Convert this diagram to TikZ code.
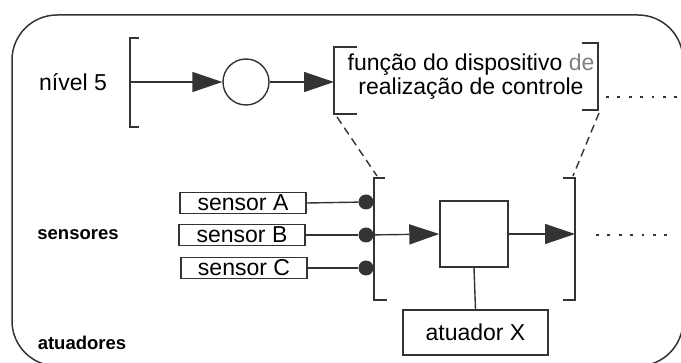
\documentclass[tikz,border=0pt]{standalone}
\usepackage{fontspec}
\setmainfont{Liberation Sans}
\usetikzlibrary{arrows.meta}
\definecolor{ln}{HTML}{333333}
\definecolor{txtgray}{HTML}{808080}
\begin{document}
\begin{tikzpicture}[x=1pt,y=-1pt,
  line/.style={draw=ln,line width=1.4pt},
  tri/.style={-{Triangle[length=30pt,width=20pt]}},
  box/.style={draw=ln,line width=1.4pt,inner sep=0pt},
  lbl/.style={font=\fontsize{23}{24}\selectfont,inner sep=0pt},
  side/.style={font=\fontsize{18.5}{20}\selectfont\bfseries,inner sep=0pt},
  blob/.style={circle,fill=ln,draw=none,minimum size=15pt,inner sep=0pt},
  dashline/.style={draw=ln,line width=1.4pt,dash pattern=on 8pt off 5pt},
  dotline/.style={draw=ln,line width=2.8pt,dash pattern=on 2.8pt off 8.6pt}]
\useasboundingbox (0,0) rectangle (681,363);
% outer frame
\draw[line,line width=1.5pt,rounded corners=45pt] (12,15) rectangle (683,366);
% side labels
\node[lbl] (niv) at (73,82) {nível 5};
\node[side] (sens) at (78,235) {sensores};
\node[side] (atu) at (82,343) {atuadores};
% level-5 bracket
\draw[line] (139,38) -- (130,38) -- (130,127) -- (139,127);
\coordinate (n5) at (130,82);
\node[circle,draw=ln,line width=1.4pt,minimum size=46pt,inner sep=0pt] (circ) at (246,82) {};
% function brackets
\coordinate (fl1) at (357,47); \coordinate (fl2) at (334,47);
\coordinate (fl3) at (334,114); \coordinate (fl4) at (357,114);
\draw[line] (fl1) -- (fl2) -- (fl3) -- (fl4);
\coordinate (fr1) at (582,43); \coordinate (fr2) at (598,43);
\coordinate (fr3) at (598,110); \coordinate (fr4) at (582,110);
\draw[line] (fr1) -- (fr2) -- (fr3) -- (fr4);
\coordinate (fin) at (334,82);
\node[lbl,align=center,font=\fontsize{23}{24}\selectfont] (fn) at (471,77)
  {função do dispositivo {\color{txtgray}de}\\realização de controle};
\draw[line,tri] (n5) -- (circ.west);
\draw[line,tri] (circ.east) -- (fin);
% dotted continuation top
\coordinate (t1) at (606,97); \coordinate (t2) at (681,97);
\draw[dotline] (t1) -- (t2);
% lower brackets
\coordinate (ll1) at (385,178); \coordinate (ll2) at (374,178);
\coordinate (ll3) at (374,300); \coordinate (ll4) at (387,300);
\draw[line] (ll1) -- (ll2) -- (ll3) -- (ll4);
\coordinate (lr1) at (563,178); \coordinate (lr2) at (575,178);
\coordinate (lr3) at (575,300); \coordinate (lr4) at (563,300);
\draw[line] (lr1) -- (lr2) -- (lr3) -- (lr4);
% dashed projections
\coordinate (dl0) at (337,117); \coordinate (dl1) at (377,176);
\coordinate (dr0) at (599,113); \coordinate (dr1) at (573,176);
\draw[dashline] (dl0) -- (dl1);
\draw[dashline] (dr0) -- (dr1);
% sensors
\node[box,lbl,minimum width=126pt,minimum height=21pt] (sA) at (243,203) {sensor A};
\node[box,lbl,minimum width=126pt,minimum height=21pt] (sB) at (242,235) {sensor B};
\node[box,lbl,minimum width=126pt,minimum height=21pt] (sC) at (244,268) {sensor C};
\node[blob] (dA) at (366,202) {};
\node[blob] (dB) at (366,235) {};
\node[blob] (dC) at (366,268) {};
\draw[line] (sA.east) -- (dA);
\draw[line] (sB.east) -- (dB);
\draw[line] (sC.east) -- (dC);
% controller box
\node[box,minimum width=68pt,minimum height=66pt] (ctr) at (474,234) {};
\draw[line,tri] (dB) -- (ctr.west);
\coordinate (out) at (575,234);
\draw[line,tri] (ctr.east) -- (out);
\coordinate (b1) at (596,235); \coordinate (b2) at (672,235);
\draw[dotline] (b1) -- (b2);
% actuator
\node[box,lbl,minimum width=145pt,minimum height=45pt] (act) at (475.5,332.5) {atuador X};
\draw[line] (ctr.south) -- (act.north);
\end{tikzpicture}
\end{document}
